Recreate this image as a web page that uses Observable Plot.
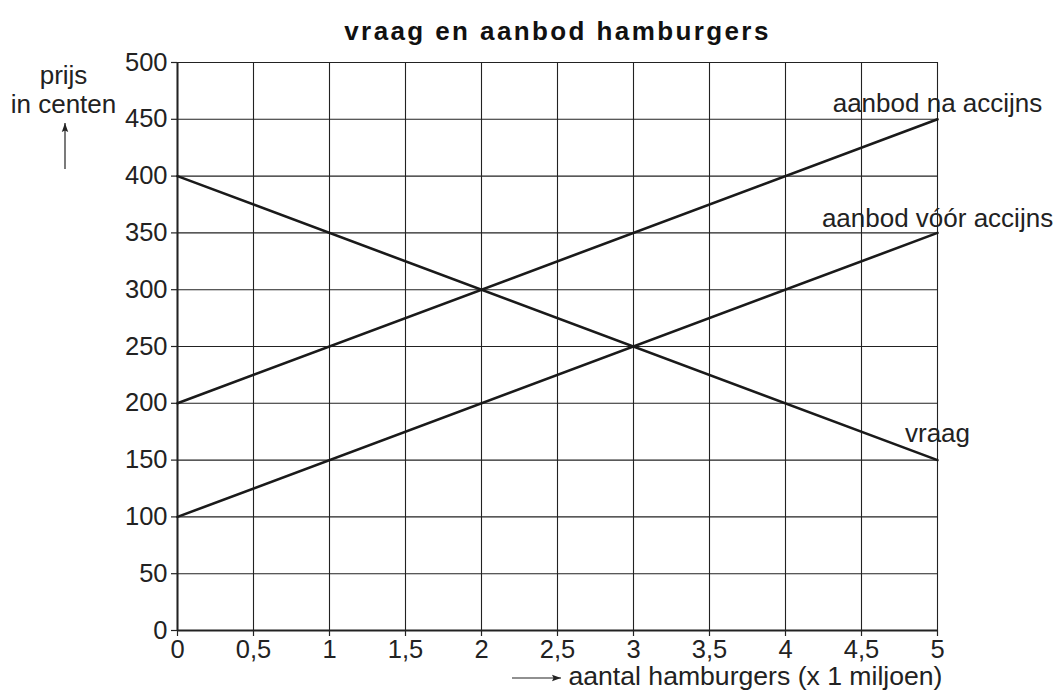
<!DOCTYPE html>
<html>
<head>
<meta charset="utf-8">
<script src="https://cdn.jsdelivr.net/npm/d3@7"></script>
<script src="https://cdn.jsdelivr.net/npm/@observablehq/plot@0.6"></script>
<style>
  html, body { margin: 0; padding: 0; background: #fff; }
  svg { font-family: "Liberation Sans", Arial, sans-serif; }
</style>
</head>
<body>
<div id="chart"></div>
<script>
const title = "vraag en aanbod hamburgers";
const yLabel = "prijs\nin centen";
const xLabel = "aantal hamburgers (x 1 miljoen)";

const quantities = [0, 5];
const vraag = [400, 150];
const aanbodVoor = [100, 350];
const aanbodNa = [200, 450];

const seriesNames = ["aanbod na accijns", "aanbod vóór accijns", "vraag"];
const seriesValues = [aanbodNa, aanbodVoor, vraag];
const labelOffsets = [-16, -14, -26];

const xTicks = [0, 0.5, 1, 1.5, 2, 2.5, 3, 3.5, 4, 4.5, 5];
const yTicks = [0, 50, 100, 150, 200, 250, 300, 350, 400, 450, 500];

const lines = seriesNames.flatMap((name, i) =>
  quantities.map((q, j) => ({series: name, x: q, y: seriesValues[i][j]}))
);
const labels = seriesNames.map((name, i) => ({
  series: name,
  x: quantities[quantities.length - 1],
  y: seriesValues[i][seriesValues[i].length - 1],
  dy: labelOffsets[i]
}));

const fmt = d => String(d).replace(".", ",");
const FS = 26;
const TFS = 25.5;

const chart = Plot.plot({
  width: 1058,
  height: 693,
  marginLeft: 177,
  marginRight: 121,
  marginTop: 62,
  marginBottom: 63,
  style: {fontSize: FS + "px", fontFamily: "'Liberation Sans', Arial, sans-serif", color: "#222", background: "#fff"},
  x: {domain: [0, 5], ticks: xTicks},
  y: {domain: [0, 500], ticks: yTicks},
  marks: [
    Plot.gridX(xTicks, {stroke: "#222", strokeOpacity: 1, strokeWidth: 1.1}),
    Plot.gridY(yTicks, {stroke: "#222", strokeOpacity: 1, strokeWidth: 1.1}),
    Plot.axisX(xTicks, {tickFormat: fmt, tickSize: 6, tickPadding: 3, stroke: "#222", strokeWidth: 1.2, fontSize: TFS, label: null}),
    Plot.axisY(yTicks, {tickFormat: fmt, tickSize: 6, tickPadding: 4, stroke: "#222", strokeWidth: 1.2, fontSize: TFS, label: null}),
    Plot.ruleX([0], {stroke: "#222", strokeWidth: 2}),
    Plot.ruleY([0], {stroke: "#222", strokeWidth: 2}),
    Plot.line(lines, {x: "x", y: "y", z: "series", stroke: "#1a1a1a", strokeWidth: 2.6}),
    ...labels.map(l => Plot.text([l], {x: "x", y: "y", text: "series", dy: l.dy, textAnchor: "middle", fontSize: FS, fill: "#222"})),
    Plot.text([title], {frameAnchor: "top", dy: -31, lineAnchor: "middle", fontSize: FS, fontWeight: "bold", fill: "#111", className: "ttl"}),
    Plot.text([yLabel], {frameAnchor: "top-left", dx: -114, dy: 27, textAnchor: "middle", lineAnchor: "middle", lineHeight: 1.1, fontSize: FS, fill: "#222"}),
    Plot.text([xLabel], {frameAnchor: "bottom-right", dx: -369, dy: 46, textAnchor: "start", lineAnchor: "middle", fontSize: 26.6, fill: "#222"})
  ]
});

document.getElementById("chart").appendChild(chart);

const svg = d3.select(chart);
svg.selectAll(".ttl text").style("letter-spacing", "2.4px");

// axis arrows (decorations next to the axis labels)
function arrow(x1, y1, x2, y2) {
  const g = svg.append("g").attr("fill", "#222").attr("stroke", "#222");
  g.append("line").attr("x1", x1).attr("y1", y1).attr("x2", x2).attr("y2", y2).attr("stroke-width", 1.2);
  const a = Math.atan2(y2 - y1, x2 - x1), L = 9, W = 3.2;
  const bx = x2 - L * Math.cos(a), by = y2 - L * Math.sin(a);
  const px = -Math.sin(a) * W, py = Math.cos(a) * W;
  g.append("path").attr("stroke", "none")
    .attr("d", `M${x2},${y2}L${bx + px},${by + py}L${bx + 1.5*Math.cos(a)},${by + 1.5*Math.sin(a)}L${bx - px},${by - py}Z`);
}
arrow(65, 169, 65, 123);
arrow(512, 678, 561, 678);
</script>
</body>
</html>
